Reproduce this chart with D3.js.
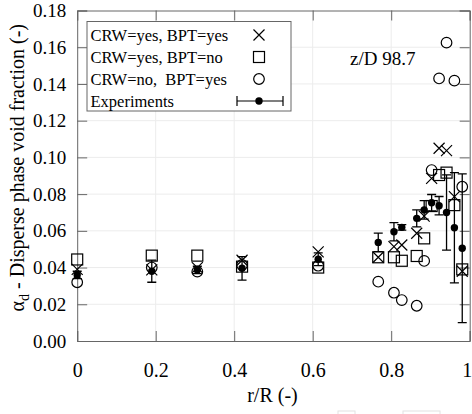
<!DOCTYPE html>
<html><head><meta charset="utf-8">
<script src="https://cdn.jsdelivr.net/npm/d3@7"></script>
<style>body{margin:0;background:#fff}svg{display:block}
svg text{font-family:"Liberation Serif","Times New Roman",Times,"DejaVu Serif",serif !important;}</style>
</head><body>
<svg id="c" width="472" height="414"></svg>
<script>
// ---- data ----
const rPos = [0, 0.19, 0.306, 0.42, 0.614, 0.767, 0.807, 0.827, 0.865, 0.884, 0.903, 0.922, 0.941, 0.961, 0.981];
const crwYesBptYes = [0.039, 0.0387, 0.040, 0.044, 0.0485, 0.0456, 0.0514, 0.0523, 0.0587, 0.068, 0.0886, 0.105, 0.1037, 0.0786, 0.038];
const crwYesBptNo  = [0.0444, 0.0465, 0.0465, 0.0405, 0.040, 0.0456, 0.0456, 0.0437, 0.0463, 0.0559, 0.0735, 0.0904, 0.0917, 0.074, 0.039];
const crwNoBptYes  = [0.032, 0.040, 0.0378, 0.0414, 0.041, 0.0323, 0.0263, 0.0223, 0.0192, 0.0436, 0.0931, 0.143, 0.1625, 0.1418, 0.084];
const expMean      = [0.036, 0.038, 0.0387, 0.0396, 0.0445, 0.0537, 0.0595, 0.0619, 0.0668, 0.0714, 0.0753, 0.0737, 0.070, 0.0617, 0.0505];
const expErr       = [0.002, 0.006, 0.002, 0.0064, 0.0035, 0.005, 0.005, 0.0015, 0.0046, 0.005, 0.0045, 0.005, 0.0205, 0.030, 0.0405];
const xTicks = [0, 0.2, 0.4, 0.6, 0.8, 1];
const xTickLabels = ["0", "0.2", "0.4", "0.6", "0.8", "1"];
const yTicks = [0, 0.02, 0.04, 0.06, 0.08, 0.10, 0.12, 0.14, 0.16, 0.18];
const yTickLabels = ["0.00","0.02","0.04","0.06","0.08","0.10","0.12","0.14","0.16","0.18"];
const legendLabels = ["CRW=yes, BPT=yes", "CRW=yes, BPT=no", "CRW=no,\u00a0 BPT=yes", "Experiments"];
const annotation = "z/D 98.7";

// ---- layout ----
const svg = d3.select("#c");
const x = d3.scaleLinear().domain([0, 1]).range([77.2, 469.7]);
const y = d3.scaleLinear().domain([0, 0.18]).range([341, 10.5]);
const frame = "#666";
const L = x(0), R = x(1), T = y(0.18), B = y(0);

// grid
svg.append("g").selectAll("line").data(xTicks.slice(1, -1)).join("line")
  .attr("x1", d => x(d)).attr("x2", d => x(d)).attr("y1", T).attr("y2", B)
  .attr("stroke", "#ececec").attr("stroke-width", 1);
svg.append("g").selectAll("line").data(yTicks.slice(1, -1)).join("line")
  .attr("y1", d => y(d)).attr("y2", d => y(d)).attr("x1", L).attr("x2", R)
  .attr("stroke", "#ececec").attr("stroke-width", 1);

// axes (inner ticks, all four sides)
const tk = 10;
const axB = svg.append("g").attr("transform", `translate(0,${B})`)
  .call(d3.axisBottom(x).tickValues(xTicks).tickSize(-tk).tickPadding(22).tickFormat((d, i) => xTickLabels[i]));
const axT = svg.append("g").attr("transform", `translate(0,${T})`)
  .call(d3.axisTop(x).tickValues(xTicks).tickSize(-tk).tickFormat(""));
const axL = svg.append("g").attr("transform", `translate(${L},0)`)
  .call(d3.axisLeft(y).tickValues(yTicks).tickSize(-tk).tickPadding(11).tickFormat((d, i) => yTickLabels[i]));
const axR = svg.append("g").attr("transform", `translate(${R},0)`)
  .call(d3.axisRight(y).tickValues(yTicks).tickSize(-tk).tickFormat(""));
[axB, axT, axL, axR].forEach(a => {
  a.attr("font-family", null);
  a.select(".domain").attr("stroke", frame);
  a.selectAll(".tick line").attr("stroke", frame);
  a.selectAll("text").attr("fill", "#000");
});
axB.selectAll("text").style("font-size", "20px");
// last x label ("1") sits at the clipped right edge; keep it inside the canvas
axB.selectAll(".tick text").filter((d, i) => i === xTicks.length - 1).attr("text-anchor", "end").attr("x", 2);
axL.selectAll("text").style("font-size", "19px");

// axis titles
svg.append("text").attr("x", (L + R) / 2 - 1).attr("y", 402).attr("text-anchor", "middle")
  .style("font-size", "20px").text("r/R (-)");
const yl = svg.append("text").attr("transform", `translate(24,${(T + B) / 2 - 8}) rotate(-90)`)
  .attr("text-anchor", "middle").style("font-size", "20px");
yl.append("tspan").text("α");
yl.append("tspan").attr("dy", 5).style("font-size", "14px").text("d");
yl.append("tspan").attr("dy", -5).text(" - Disperse phase void fraction (-)");

// annotation
svg.append("text").attr("x", 350).attr("y", 65).style("font-size", "19px").text(annotation);

// ---- marks ----
const idx = d3.range(rPos.length);
const g = svg.append("g").attr("fill", "none").attr("stroke", "#000").attr("stroke-width", 1.2);
const cw = 4.5;
function cross(sel, cx, cy, s) {
  sel.append("path").attr("d", `M${cx - s},${cy - s}L${cx + s},${cy + s}M${cx - s},${cy + s}L${cx + s},${cy - s}`);
}
idx.forEach(i => cross(g, x(rPos[i]), y(crwYesBptYes[i]), 5.5));
g.selectAll("rect.sq").data(idx).join("rect").attr("class", "sq")
  .attr("x", i => x(rPos[i]) - 5.5).attr("y", i => y(crwYesBptNo[i]) - 5.5)
  .attr("width", 11).attr("height", 11);
g.selectAll("circle.ci").data(idx).join("circle").attr("class", "ci")
  .attr("cx", i => x(rPos[i])).attr("cy", i => y(crwNoBptYes[i])).attr("r", 5.3);
const eb = svg.append("g").attr("stroke", "#000").attr("stroke-width", 1.3).attr("fill", "none");
idx.forEach(i => {
  const cx = x(rPos[i]), y1 = y(expMean[i] - expErr[i]), y2 = y(expMean[i] + expErr[i]);
  eb.append("path").attr("d", `M${cx},${y1}L${cx},${y2}M${cx - cw},${y1}L${cx + cw},${y1}M${cx - cw},${y2}L${cx + cw},${y2}`);
});
svg.append("g").selectAll("circle").data(idx).join("circle")
  .attr("cx", i => x(rPos[i])).attr("cy", i => y(expMean[i])).attr("r", 3.7).attr("fill", "#000");

// ---- legend ----
const lg = svg.append("g");
lg.append("rect").attr("x", 87).attr("y", 21.5).attr("width", 204).attr("height", 89.5)
  .attr("fill", "#fff").attr("stroke", frame).attr("stroke-width", 1);
const rowsY = [35, 57, 79, 101];
legendLabels.forEach((t, i) => {
  lg.append("text").attr("x", 90.5).attr("y", rowsY[i] + 5.5).style("font-size", "16.5px").text(t);
});
const lm = lg.append("g").attr("fill", "none").attr("stroke", "#000").attr("stroke-width", 1.2);
cross(lm, 259, rowsY[0], 5.5);
lm.append("rect").attr("x", 253.5).attr("y", rowsY[1] - 5.5).attr("width", 11).attr("height", 11);
lm.append("circle").attr("cx", 259).attr("cy", rowsY[2]).attr("r", 5.3);
lm.append("path").attr("d", `M237,${rowsY[3]}L283,${rowsY[3]}M237,${rowsY[3] - 5}L237,${rowsY[3] + 5}M283,${rowsY[3] - 5}L283,${rowsY[3] + 5}`);
lg.append("circle").attr("cx", 259).attr("cy", rowsY[3]).attr("r", 3.7).attr("fill", "#000");

// faint artifacts at bottom edge
svg.append("rect").attr("x", 338).attr("y", 411).attr("width", 17).attr("height", 8).attr("fill", "none").attr("stroke", "#e2e2e2");
svg.append("rect").attr("x", 403).attr("y", 411).attr("width", 37).attr("height", 8).attr("fill", "none").attr("stroke", "#e2e2e2");
</script>
</body></html>
